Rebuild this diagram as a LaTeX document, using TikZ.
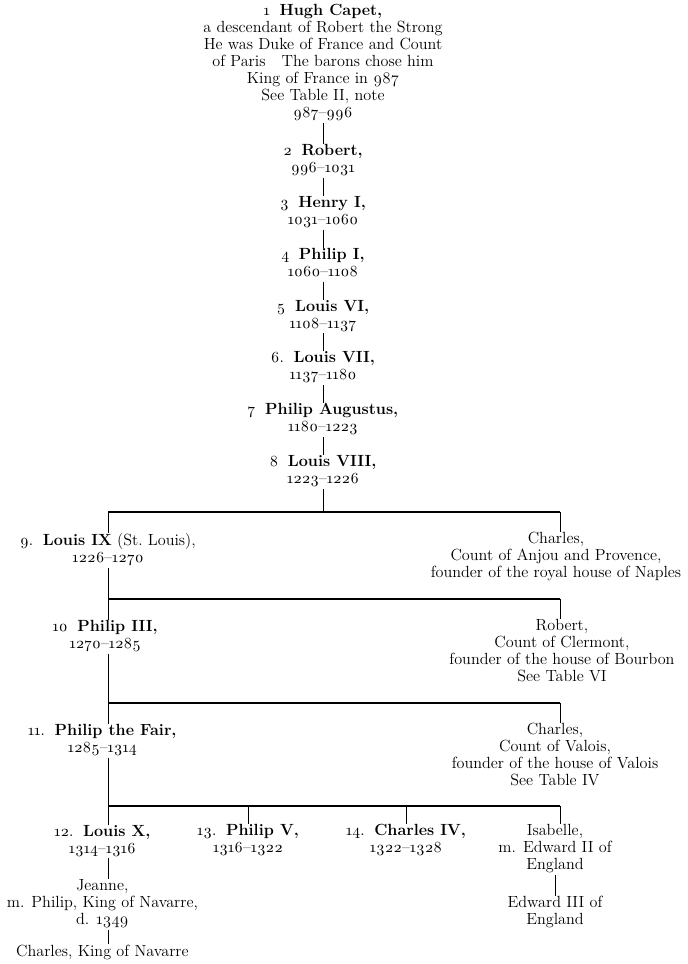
\documentclass[tikz,border=0pt]{standalone}
\usepackage{fontspec}
\setmainfont{Latin Modern Roman}[Numbers=OldStyle]
\usetikzlibrary{positioning}

\newcommand{\kdates}[1]{{\fontsize{11}{12.1}\selectfont #1}}
\newcommand{\knum}[1]{{\fontsize{11}{12.1}\selectfont #1}\hspace{0.6em}}

\begin{document}
\begin{tikzpicture}[
    x=0.025cm, y=-0.025cm,
    node distance=0.45cm,
    person/.style={
        align=center, inner sep=0pt,
        font=\fontsize{11.5}{12.1}\selectfont,
        execute at begin node=\strut,
        execute at end node=\strut
    },
    link/.style={line width=0.6pt},
    sibbar/.style={line width=0.9pt}
]
\useasboundingbox (0,0) rectangle (688,964);

% Direct line
\node[person, anchor=north] (hugh) at (323,4) {\knum{1}\textbf{Hugh Capet,}\\
    a descendant of Robert the Strong\\
    He was Duke of France and Count\\
    of Paris\quad The barons chose him\\
    King of France in 987\\
    See Table II, note\\
    \kdates{987--996}};
\node[person, below=0.525cm of hugh] (robert) {\knum{2}\textbf{Robert,}\\ \kdates{996--1031}};
\node[person, below=of robert] (henry1) {\knum{3}\textbf{Henry I,}\\ \kdates{1031--1060}};
\node[person, below=of henry1] (philip1) {\knum{4}\textbf{Philip I,}\\ \kdates{1060--1108}};
\node[person, below=of philip1] (louis6) {\knum{5}\textbf{Louis VI,}\\ \kdates{1108--1137}};
\node[person, below=of louis6] (louis7) {\knum{6.}\textbf{Louis VII,}\\ \kdates{1137--1180}};
\node[person, below=of louis7] (philipaug) {\knum{7}\textbf{Philip Augustus,}\\ \kdates{1180--1223}};
\node[person, below=of philipaug] (louis8) {\knum{8}\textbf{Louis VIII,}\\ \kdates{1223--1226}};

% Sons of Louis VIII
\node[person, anchor=north] (louis9) at (108,533) {\knum{9.}\textbf{Louis IX} (St.\ Louis),\\ \kdates{1226--1270}};
\node[person, anchor=north] (charlesanjou) at (556,532) {Charles,\\
    Count of Anjou and Provence,\\
    founder of the royal house of Naples};

% Sons of Louis IX
\node[person, below=1.3cm of louis9, xshift=-2pt] (philip3) {\knum{10}\textbf{Philip III,}\\ \kdates{1270--1285}};
\node[person, anchor=north] (robertclermont) at (562,619) {Robert,\\
    Count of Clermont,\\
    founder of the house of Bourbon\\
    See Table VI};

% Sons of Philip III
\node[person, below=1.75cm of philip3, xshift=-2pt] (philipfair) {\knum{11.}\textbf{Philip the Fair,}\\ \kdates{1285--1314}};
\node[person, anchor=north] (charlesvalois) at (555,723) {Charles,\\
    Count of Valois,\\
    founder of the house of Valois\\
    See Table IV};

% Children of Philip the Fair
\node[person, below=1.675cm of philipfair] (louis10) {\knum{12.}\textbf{Louis X,}\\ \kdates{1314--1316}};
\node[person, anchor=north] (philip5) at (248,824) {\knum{13.}\textbf{Philip V,}\\ \kdates{1316--1322}};
\node[person, anchor=north] (charles4) at (406,824) {\knum{14.}\textbf{Charles IV,}\\ \kdates{1322--1328}};
\node[person, anchor=north] (isabelle) at (555,824) {Isabelle,\\ m. Edward II of\\ England};

% Grandchildren
\node[person, below=0.525cm of louis10] (jeanne) {Jeanne,\\ m. Philip, King of Navarre,\\ d. 1349};
\node[person, below=0.35cm of jeanne] (charlesnavarre) {Charles, King of Navarre};
\node[person, below=0.525cm of isabelle] (edward3) {Edward III of\\ England};

% Bars
\coordinate (bar9l) at (108,512);
\coordinate (bar9r) at (560,512);
\coordinate (bar10l) at (108,599);
\coordinate (bar10r) at (560,599);
\coordinate (bar11l) at (108,703);
\coordinate (bar11r) at (560,703);
\coordinate (bar12l) at (108,806);
\coordinate (bar12r) at (560,806);

% Lines
\draw[link] (hugh) -- (robert);
\draw[link] (robert) -- (henry1);
\draw[link] (henry1) -- (philip1);
\draw[link] (philip1) -- (louis6);
\draw[link] (louis6) -- (louis7);
\draw[link] (louis7) -- (philipaug);
\draw[link] (philipaug) -- (louis8);

\draw[link] (louis8) -- (louis8 |- bar9l);
\draw[sibbar] (bar9l) -- (bar9r);
\draw[link] (bar9l) -- (louis9.north -| bar9l);
\draw[link] (bar9r) -- (charlesanjou.north -| bar9r);

\draw[link] (louis9.south -| bar10l) -- (philip3.north -| bar10l);
\draw[sibbar] (bar10l) -- (bar10r);
\draw[link] (bar10r) -- (robertclermont.north -| bar10r);

\draw[link] (philip3.south -| bar11l) -- (philipfair.north -| bar11l);
\draw[sibbar] (bar11l) -- (bar11r);
\draw[link] (bar11r) -- (charlesvalois.north -| bar11r);

\draw[link] (philipfair.south -| bar12l) -- (louis10.north -| bar12l);
\draw[sibbar] (bar12l) -- (bar12r);
\draw[link] (philip5 |- bar12l) -- (philip5);
\draw[link] (charles4 |- bar12l) -- (charles4);
\draw[link] (bar12r) -- (isabelle.north -| bar12r);

\draw[link] (louis10.south -| bar12l) -- (jeanne.north -| bar12l);
\draw[link] (jeanne.south -| bar12l) -- (charlesnavarre.north -| bar12l);
\draw[link] (isabelle) -- (edward3);

\end{tikzpicture}
\end{document}
